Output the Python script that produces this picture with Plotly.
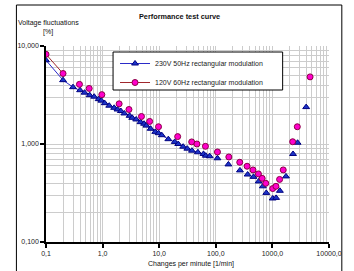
import plotly.graph_objects as go

# ---- data ----
blue_x = [0.1, 0.2, 0.3, 0.4, 0.48, 0.59, 0.71, 0.85, 0.95, 1.09, 1.31, 1.6, 1.83, 2.1, 2.42,
          3.0, 3.34, 3.92, 4.67, 5.4, 5.94, 7.06, 8.52, 9.73, 11.1, 14.5, 18.8, 21.7, 26.5, 31.4,
          37.9, 48.2, 60.6, 66.5, 78, 107, 167, 267, 365, 464, 571, 678, 780, 1012, 1164,
          1356, 1738, 2317, 2786, 3951]
blue_y = [7.15, 4.48, 3.80, 3.54, 3.34, 3.15, 3.04, 2.87, 2.77, 2.61, 2.46, 2.34, 2.25, 2.17, 2.05,
          1.94, 1.85, 1.78, 1.67, 1.61, 1.54, 1.43, 1.33, 1.29, 1.23, 1.12, 1.05, 1.00, 0.939, 0.896,
          0.855, 0.823, 0.791, 0.760, 0.750, 0.715, 0.619, 0.538, 0.488, 0.462, 0.415, 0.370, 0.317, 0.278, 0.282,
          0.333, 0.467, 0.791, 1.03, 2.38]
mag_x = [0.1, 0.2, 0.39, 0.58, 0.97, 1.96, 2.92, 4.86, 6.78, 9.73, 21.2, 37.5, 46.4, 65.6, 107,
         170, 265, 357, 454, 566, 659, 764, 1012, 1156, 1340, 1553, 2280, 2754, 4634]
mag_y = [8.23, 5.24, 4.06, 3.69, 3.19, 2.57, 2.25, 1.91, 1.70, 1.50, 1.19, 1.05, 1.00, 0.947, 0.829,
         0.737, 0.651, 0.593, 0.544, 0.495, 0.446, 0.397, 0.351, 0.370, 0.435, 0.544, 1.055, 1.50, 4.84]
series_names = ["230V 50Hz rectangular modulation", "120V 60Hz rectangular modulation"]
x_tickvals = [0.1, 1, 10, 100, 1000, 10000]
x_ticktext = ["0,1", "1,0", "10,0", "100,0", "1000,0", "10000,0"]
y_tickvals = [0.1, 1, 10]
y_ticktext = ["0,100", "1,000", "10,000"]

BLUE_LINE = "#2b2bc8"
BLUE_FILL = "#1c34c8"
BLUE_EDGE = "#000080"
MAG_FILL = "#ff00cc"
MAG_EDGE = "#8b0045"
RED_LINE = "#a0282d"
FONT = "Liberation Sans"

n_blue_line = 35  # connected part of blue series
n_mag_line = 2    # connected part of magenta series

blue_marker = dict(symbol="triangle-up", size=6, color=BLUE_FILL, line=dict(color=BLUE_EDGE, width=1))
mag_marker = dict(symbol="circle", size=6, color=MAG_FILL, line=dict(color=MAG_EDGE, width=1))

fig = go.Figure()
fig.add_trace(go.Scatter(x=blue_x[:n_blue_line], y=blue_y[:n_blue_line], mode="lines+markers",
                         name=series_names[0], marker=blue_marker,
                         line=dict(color=BLUE_LINE, width=1)))
fig.add_trace(go.Scatter(x=mag_x[:n_mag_line], y=mag_y[:n_mag_line], mode="lines+markers",
                         name=series_names[1], marker=mag_marker,
                         line=dict(color=RED_LINE, width=1)))
fig.add_trace(go.Scatter(x=blue_x[n_blue_line:], y=blue_y[n_blue_line:], mode="markers",
                         marker=blue_marker, showlegend=False))
fig.add_trace(go.Scatter(x=mag_x[n_mag_line:], y=mag_y[n_mag_line:], mode="markers",
                         marker=mag_marker, showlegend=False))

grid = "#cccccc"
axis_common = dict(type="log", showgrid=True, gridcolor=grid, gridwidth=1,
                   minor=dict(dtick="D1", showgrid=True, gridcolor=grid, ticks=""),
                   showline=True, linecolor="black", linewidth=1.5, ticks="outside",
                   ticklen=4, tickcolor="black", tickwidth=1.5, zeroline=False,
                   tickfont=dict(size=7, color="#222", family=FONT))
fig.update_xaxes(range=[-1, 4], tickvals=x_tickvals, ticktext=x_ticktext, **axis_common)
fig.update_yaxes(range=[-1, 1], tickvals=y_tickvals, ticktext=y_ticktext, **axis_common)

L, R, T, B = 46, 21, 46, 29
W, H = 354, 271
pw, ph = W - L - R, H - T - B

def px2x(px):
    return (px - L) / pw

def px2y(py):
    return (H - B - py) / ph

annos = [
    dict(text="<b>Performance test curve</b>", x=px2x(181), y=px2y(17), size=7.3),
    dict(text="Voltage fluctuations", x=px2x(16), y=px2y(23), xanchor="left", size=7),
    dict(text="[%]", x=px2x(48), y=px2y(32), size=7),
    dict(text="Changes per minute [1/min]", x=px2x(193), y=px2y(264), size=7),
]
for a in annos:
    a.setdefault("xanchor", "center")
    size = a.pop("size")
    fig.add_annotation(xref="paper", yref="paper", yanchor="middle", showarrow=False,
                       font=dict(family=FONT, color="#111", size=size), **a)

# outer chart border
fig.add_shape(type="rect", xref="paper", yref="paper", x0=px2x(16), x1=px2x(346),
              y0=px2y(275), y1=px2y(5), line=dict(color="black", width=1), layer="below")
# legend box
fig.add_shape(type="rect", xref="paper", yref="paper", x0=px2x(114), x1=px2x(286),
              y0=px2y(90), y1=px2y(52), line=dict(color="black", width=1),
              fillcolor="white", layer="above")

fig.update_layout(
    width=W, height=H, margin=dict(l=L, r=R, t=T, b=B),
    paper_bgcolor="white", plot_bgcolor="white",
    font=dict(family=FONT, size=7, color="#222"),
    legend=dict(x=px2x(116), y=px2y(49), xanchor="left", yanchor="top",
                bgcolor="rgba(0,0,0,0)", borderwidth=0,
                font=dict(size=7, family=FONT)),
    showlegend=True,
)
fig.write_html("out.html", config={"displayModeBar": False},
               post_script="document.body.style.margin='0';document.body.style.padding='0';")
